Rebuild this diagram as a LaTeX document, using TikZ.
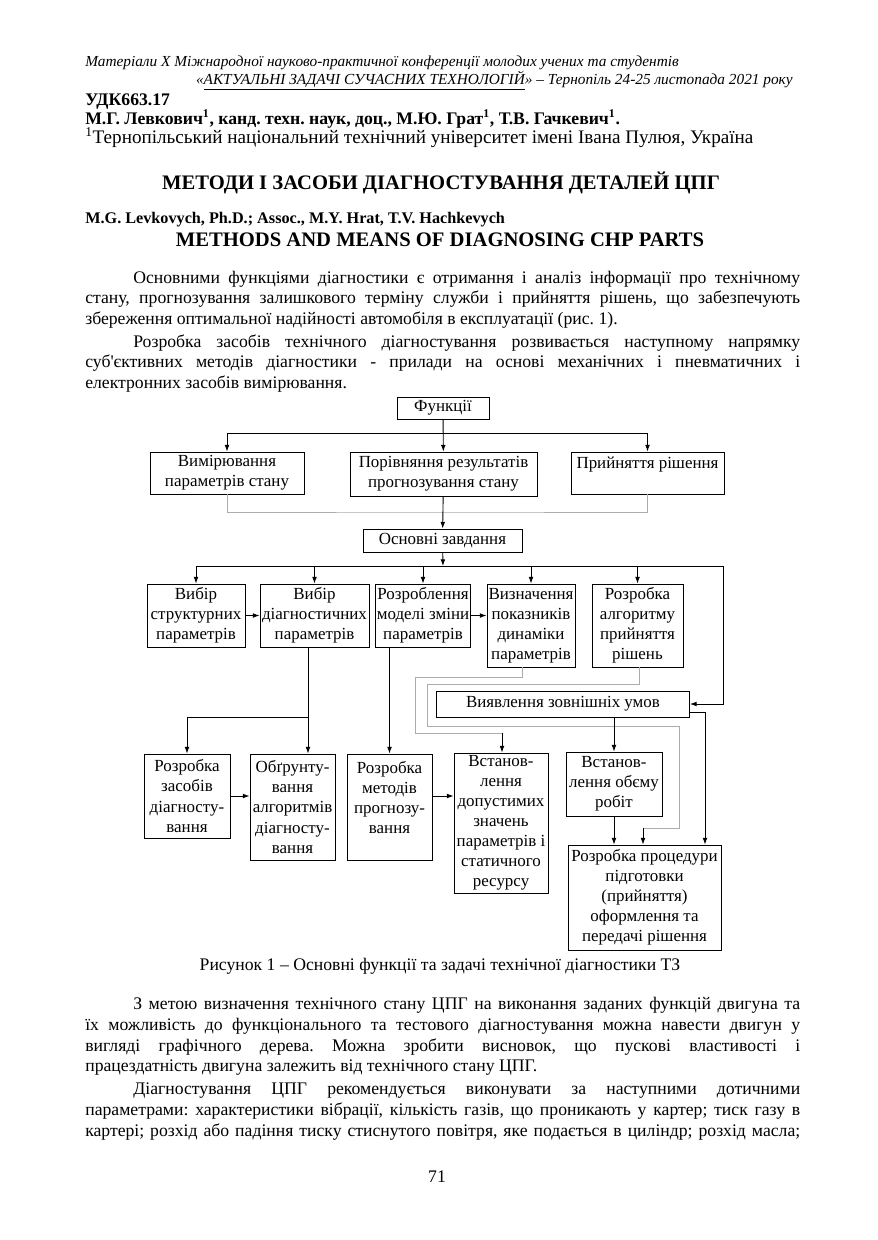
\documentclass[tikz,border=0pt]{standalone}
\usepackage{fontspec}
\setmainfont{Liberation Serif}[Ligatures=TeXOff]
\usetikzlibrary{arrows.meta}
\frenchspacing

\newcommand\pxu{0.6788pt}
\newcommand\boxfont{\fontsize{11.5}{13.6}\selectfont}
\newcommand\bodyfont{\fontsize{12}{14.25}\selectfont}
\newcommand\ind{\hspace*{32.6pt}}

\tikzset{
  blk/.style 2 args={draw, line width=0.6pt, align=center, inner sep=0pt,
    font=\boxfont, minimum width=#1*\pxu, minimum height=#2*\pxu},
  arr/.style={-{Latex[length=4.5pt,width=3.2pt]}, line width=0.6pt},
  gline/.style={gray!65, line width=0.6pt},
  txt/.style={anchor=base west, inner sep=0pt},
  para/.style={txt, text width=485.3pt, align=justify, font=\bodyfont,
    /utils/exec={\hyphenpenalty=10000\exhyphenpenalty=10000\frenchspacing}},
}

\begin{document}
\begin{tikzpicture}[x=\pxu,y=-\pxu]
  \useasboundingbox[fill=white] (0,0) rectangle (877,1240);

  % page head
  \node[txt, font=\fontsize{10.4}{12}\itshape] (head1) at (85,66)
    {Матеріали Х Міжнародної науково-практичної конференції молодих учених та студентів};
  \node[anchor=base east, inner sep=0pt, font=\fontsize{10.4}{12}\itshape] (head2) at (793,84)
    {«\underline{АКТУАЛЬНІ ЗАДАЧІ СУЧАСНИХ ТЕХНОЛОГІЙ}» – Тернопіль 24-25 листопада 2021 року};
  \node[txt, font=\bodyfont\bfseries] (udk) at (85,105) {УДК663.17};
  \node[txt, font=\bodyfont\bfseries] (auth) at (85,124)
    {М.Г. Левкович\textsuperscript{1}, канд. техн. наук, доц., М.Ю. Грат\textsuperscript{1}, Т.В. Гачкевич\textsuperscript{1}.};
  \node[txt, font=\fontsize{13}{15}\selectfont] (affil) at (85,143)
    {\textsuperscript{1}Тернопільський національний технічний університет імені Івана Пулюя, Україна};
  \node[anchor=base, inner sep=0pt, font=\fontsize{14}{16}\bfseries] (title) at (441,189)
    {МЕТОДИ І ЗАСОБИ ДІАГНОСТУВАННЯ ДЕТАЛЕЙ ЦПГ};
  \node[txt, font=\fontsize{11}{13}\bfseries] (authen) at (85,223)
    {M.G. Levkovych, Ph.D.; Assoc., M.Y. Hrat, T.V. Hachkevych};
  \node[anchor=base, inner sep=0pt, font=\fontsize{14}{16}\bfseries] (titleen) at (440,246)
    {METHODS AND MEANS OF DIAGNOSING CHP PARTS};

  % text above the figure
  \node[para] (text1) at (85,283) {\ind Основними функціями діагностики є отримання і аналіз інформації про технічному\linebreak
    стану, прогнозування залишкового терміну служби і прийняття рішень, що забезпечують\linebreak
    збереження оптимальної надійності автомобіля в експлуатації (рис. 1).};
  \node[para] (text2) at (85,347) {\ind Розробка засобів технічного діагностування розвивається наступному напрямку\linebreak
    суб'єктивних методів діагностики - прилади на основі механічних і пневматичних і\linebreak
    електронних засобів вимірювання.};

  % figure boxes
  \node[blk={92}{22}] (fun) at (443,408) {Функції};
  \node[blk={154}{42}] (vym) at (227,473) {Вимірювання\\параметрів стану};
  \node[blk={187}{44}] (por) at (443.5,474) {Порівняння результатів\\прогнозування стану};
  \node[blk={153}{42}] (pry) at (647.5,473) {Прийняття рішення\\\mbox{}};
  \node[blk={159}{23}] (osn) at (442.5,540.5) {Основні завдання};

  \node[blk={98}{63}] (b1) at (196,615.5) {Вибір\\структурних\\параметрів};
  \node[blk={109}{63}] (b2) at (314.5,615.5) {Вибір\\діагностичних\\параметрів};
  \node[blk={95}{63}] (b3) at (423,615.5) {Розроблення\\моделі зміни\\параметрів};
  \node[blk={88}{83}] (b4) at (531,625.5) {Визначення\\показників\\динаміки\\параметрів};
  \node[blk={91}{83}] (b5) at (637.5,625.5) {Розробка\\алгоритму\\прийняття\\рішень};
  \node[blk={253}{26}] (vyav) at (563,704) {Виявлення зовнішніх умов};

  \node[blk={86}{84}] (c1) at (187,796) {Розробка\\засобів\\діагносту-\\вання};
  \node[blk={85}{106}] (c2) at (292.5,807) {Обґрунту-\\вання\\алгоритмів\\діагносту-\\вання};
  \node[blk={85}{106}] (c3) at (389.5,807) {Розробка\\методів\\прогнозу-\\вання\\\mbox{}};
  \node[blk={94}{140}] (c4) at (501,823) {Встанов-\\лення\\допустимих\\значень\\параметрів і\\статичного\\ресурсу};
  \node[blk={96}{64}] (c5) at (614,784) {Встанов-\\лення обєму\\робіт};
  \node[blk={153}{105}] (d) at (644.5,897.5) {Розробка процедури\\підготовки\\(прийняття)\\оформлення та\\передачі рішення};

  % connectors
  \coordinate (f1) at (443,433);
  \draw (vym.north |- f1) -- (pry.north |- f1);
  \draw[arr] (fun) -- (por);
  \draw[arr] (f1) -| (vym);
  \draw[arr] (f1) -| (pry);
  \coordinate (g1) at (443,512);
  \draw[gline] (vym) |- (g1) -| (pry);
  \draw[arr] (por) -- (osn);

  \coordinate (o1) at (443,566);
  \coordinate (o2) at (723,566);
  \draw[arr] (osn) -- (o1);
  \draw (b1.north |- o1) -- (o2);
  \foreach \n in {b1,b2,b3,b4,b5}
    \draw[arr] (\n.north |- o1) -- (\n);
  \draw[arr] (o2) |- (vyav);
  \draw[arr] (b1) -- (b2);
  \draw[arr] (b3.east) -- (b3.east -| b4.west);

  \coordinate (k1) at (308,717);
  \draw (b2.south -| k1) -- (k1);
  \draw[arr] (k1) -- (k1 |- c2.north);
  \draw[arr] (k1) -| (c1);
  \draw[arr] (b3.south -| c3.north) -- (c3);
  \draw[arr] (c1) -- (c1 -| c2.west);
  \draw[arr] (c3.east |- c1) -- (c4.west |- c1);

  % grey links from the dynamics and decision boxes
  \coordinate (p1) at (522,677);
  \coordinate (p2) at (415,677);
  \coordinate (p3) at (415,733);
  \coordinate (p4) at (502,733);
  \draw[gline] (b4.south -| p1) -- (p1) -- (p2) -- (p3) -- (p4);
  \draw[arr] (p4) -- (c4.north -| p4);
  \coordinate (q1) at (639,684);
  \coordinate (q2) at (427,684);
  \coordinate (q3) at (427,726);
  \coordinate (q4) at (679,726);
  \coordinate (q5) at (679,828);
  \coordinate (q6) at (643,828);
  \draw[gline] (b5.south -| q1) -- (q1) -- (q2) -- (q3) -- (q4) -- (q5) -- (q6);
  \draw[arr] (q6) -- (d.north -| q6);
  \coordinate (v1) at (705,712);
  \draw[arr] (vyav.east |- v1) -- (v1) -- (v1 |- d.north);
  \draw[arr] (vyav.south -| c5.north) -- (c5);
  \draw[arr] (c5) -- (c5 |- d.north);

  \node[anchor=base, inner sep=0pt, font=\bodyfont] (caption) at (440,970)
    {Рисунок 1 – Основні функції та задачі технічної діагностики ТЗ};

  % text below the figure
  \node[para] (text3) at (85,1009) {\ind З метою визначення технічного стану ЦПГ на виконання заданих функцій двигуна та\linebreak
    їх можливість до функціонального та тестового діагностування можна навести двигун у\linebreak
    вигляді графічного дерева. Можна зробити висновок, що пускові властивості і\linebreak
    працездатність двигуна залежить від технічного стану ЦПГ.};
  \node[para] (text4) at (85,1094) {\ind Діагностування ЦПГ рекомендується виконувати за наступними дотичними\linebreak
    параметрами: характеристики вібрації, кількість газів, що проникають у картер; тиск газу в\linebreak
    картері; розхід або падіння тиску стиснутого повітря, яке подається в циліндр; розхід масла;\linebreak};

  \node[anchor=base, inner sep=0pt, font=\bodyfont] (pagenum) at (437,1182) {71};
\end{tikzpicture}
\end{document}
